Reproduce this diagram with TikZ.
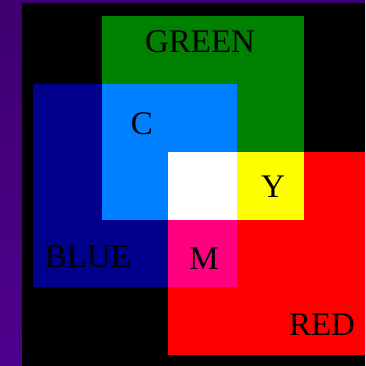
\documentclass[tikz,border=0pt]{standalone}
\usepackage{fontspec}
\setmainfont{Liberation Serif}
\definecolor{bgpurple}{RGB}{78,0,140}
\definecolor{bgpurpletop}{RGB}{62,0,112}
\definecolor{gr}{RGB}{0,128,0}
\definecolor{bl}{RGB}{0,0,140}
\definecolor{cy}{RGB}{0,128,255}
\definecolor{ye}{RGB}{255,255,0}
\definecolor{ma}{RGB}{255,0,128}
\definecolor{re}{RGB}{255,0,0}
\begin{document}
\begin{tikzpicture}[x=1pt,y=-1pt,
  lbl/.style={anchor=base,inner sep=0pt,text=black,font=\fontsize{33}{33}\selectfont}]
\useasboundingbox (0,0) rectangle (365,366);
\shade[top color=bgpurpletop,bottom color=bgpurple] (0,0) rectangle (365,366);
\fill[black] (22,3) rectangle (365,366);
% primary squares
\fill[bl] (33,84) rectangle (237,287);
\fill[gr] (102,16) rectangle (304,220);
\fill[re] (168,152) rectangle (365,355);
% overlaps
\fill[cy] (102,84) rectangle (237,220);
\fill[ye] (168,152) rectangle (304,220);
\fill[ma] (168,152) rectangle (237,287);
\fill[white] (168,152) rectangle (237,220);
% labels
\node[lbl] (green) at (200,53) {GREEN};
\node[lbl] (c) at (142,135) {C};
\node[lbl] (y) at (273,197) {Y};
\node[lbl] (blue) at (88,267) {BLUE};
\node[lbl] (m) at (204,269) {M};
\node[lbl] (red) at (322,335) {RED};
\end{tikzpicture}
\end{document}
